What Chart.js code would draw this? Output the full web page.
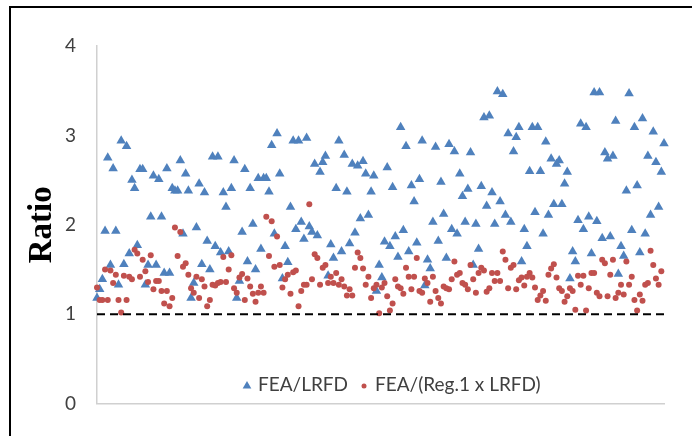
<!DOCTYPE html>
<html><head><meta charset="utf-8">
<script src="https://cdn.jsdelivr.net/npm/chart.js@4.4.1/dist/chart.umd.min.js"></script>
<style>html,body{margin:0;padding:0;background:#fff;}#wrap{width:692px;height:436px;position:relative;}</style>
</head><body><div id="wrap"><canvas id="c" width="692" height="436"></canvas></div>
<script>
const seriesNames = ['FEA/LRFD', 'FEA/(Reg.1 x LRFD)'];
const axisTitle = 'Ratio';
const yTicks = [0, 1, 2, 3, 4];
const limitRatio = 1;
const feaLrfd = [
1.18,1.28,1.39,1.93,2.75,1.55,2.63,1.93,1.33,2.94,
1.56,2.88,1.68,2.50,2.41,1.77,2.62,2.62,1.33,1.55,
2.09,2.55,1.55,2.51,2.09,1.46,2.63,1.46,2.41,2.38,
2.38,2.72,1.90,2.57,2.38,1.18,1.35,1.97,2.46,1.56,
2.36,1.82,1.50,2.76,1.76,2.76,1.69,2.36,2.20,1.70,
2.41,2.72,1.18,1.37,1.92,2.62,1.59,2.41,2.01,1.50,
2.52,1.73,2.52,2.52,2.37,2.89,1.90,3.02,2.57,1.40,
1.76,1.58,2.20,2.94,1.95,2.94,2.03,1.84,2.97,1.98,
1.92,2.68,1.88,2.59,2.70,2.77,1.43,1.78,1.63,2.41,
2.94,1.70,2.78,2.37,1.79,2.68,1.91,2.66,2.07,2.71,
2.57,2.11,2.37,2.55,1.26,1.55,1.41,1.81,2.64,1.76,
2.42,1.87,1.64,3.09,1.94,2.88,1.70,2.44,2.26,1.80,
2.51,2.94,1.32,1.61,1.51,2.03,2.87,1.82,2.48,2.12,
1.63,2.90,1.95,2.82,1.90,2.57,2.32,2.03,2.40,2.81,
1.55,2.01,1.73,2.43,3.20,2.21,3.22,2.36,2.01,3.49,
2.26,3.46,2.11,3.02,2.03,2.82,2.98,3.09,1.59,1.95,
1.76,2.60,3.09,2.14,3.09,2.60,1.90,2.93,2.11,2.74,
2.23,2.68,2.72,2.23,2.46,2.59,1.40,1.70,1.59,2.05,
3.13,1.95,3.09,2.09,1.68,3.48,2.04,3.48,1.85,2.81,
2.74,1.87,2.77,3.16,1.45,1.76,1.65,2.38,3.47,1.94,
3.09,2.44,1.69,3.19,1.90,2.77,2.11,3.04,2.70,2.20,
2.59,2.91];
const feaReg1Lrfd = [
1.30,1.16,1.16,1.50,1.16,1.49,1.35,1.44,1.16,1.02,
1.43,1.16,1.42,1.39,1.72,1.68,1.42,1.61,1.48,1.36,
1.66,1.28,1.37,1.37,1.26,1.12,1.26,1.09,1.18,1.97,
1.65,1.92,1.53,1.57,1.44,1.29,1.24,1.42,1.18,1.39,
1.31,1.09,1.16,1.33,1.32,1.35,1.36,1.64,1.36,1.50,
1.66,1.29,1.24,1.41,1.45,1.16,1.40,1.31,1.23,1.14,
1.24,1.31,1.24,2.09,1.65,2.04,1.53,1.87,1.55,1.30,
1.39,1.44,1.23,1.47,1.49,1.09,1.26,1.33,1.33,2.23,
1.39,1.67,1.63,1.33,1.52,1.55,1.35,1.42,1.35,1.46,
1.33,1.39,1.31,1.21,1.28,1.21,1.52,1.69,1.63,1.51,
1.33,1.42,1.18,1.29,1.33,1.01,1.30,1.35,1.20,1.04,
1.12,1.39,1.31,1.29,1.23,1.52,1.42,1.28,1.42,1.63,
1.26,1.24,1.40,1.35,1.14,1.42,1.26,1.18,1.12,1.31,
1.29,1.28,1.39,1.59,1.44,1.46,1.35,1.33,1.28,1.55,
1.39,1.24,1.46,1.52,1.49,1.25,1.29,1.46,1.37,1.46,
1.37,1.70,1.61,1.29,1.52,1.55,1.28,1.38,1.41,1.32,
1.42,1.46,1.41,1.30,1.16,1.21,1.26,1.15,1.44,1.51,
1.56,1.41,1.29,1.26,1.14,1.20,1.29,1.26,1.05,1.43,
1.33,1.43,1.04,1.29,1.46,1.46,1.24,1.20,1.61,1.57,
1.20,1.44,1.61,1.18,1.24,1.33,1.22,1.59,1.33,1.42,
1.16,1.04,1.22,1.15,1.33,1.35,1.71,1.55,1.40,1.33,
1.48];

const blue = '#4F81BD', red = '#C0504D';
const nMax = Math.max(feaLrfd.length, feaReg1Lrfd.length);
const toPts = arr => arr.map((v, i) => ({x: i + 1, y: v}));

const framePlugin = {
  id: 'frame',
  beforeDraw(chart) {
    const ctx = chart.ctx;
    ctx.save();
    ctx.fillStyle = '#fff';
    ctx.fillRect(0, 0, chart.width, chart.height);
    ctx.strokeStyle = '#000';
    ctx.lineWidth = 2;
    ctx.strokeRect(10, 7, 760, 500);
    ctx.restore();
  }
};

const legendPlugin = {
  id: 'inlineLegend',
  afterDraw(chart) {
    const ctx = chart.ctx;
    const y = 385;
    ctx.save();
    ctx.font = '19px Lato';
    ctx.textBaseline = 'middle';
    ctx.textAlign = 'left';
    ctx.fillStyle = blue;
    Chart.helpers.drawPoint(ctx, {pointStyle: 'triangle', radius: 5, rotation: 0, borderWidth: 0}, 247, y + 1);
    ctx.fillStyle = '#404040';
    ctx.fillText(seriesNames[0], 258, y);
    ctx.fillStyle = red;
    Chart.helpers.drawPoint(ctx, {pointStyle: 'circle', radius: 2.5, rotation: 0, borderWidth: 0}, 364, y + 1);
    ctx.fillStyle = '#404040';
    ctx.fillText(seriesNames[1], 375, y);
    ctx.restore();
  }
};

new Chart(document.getElementById('c'), {
  type: 'scatter',
  data: {
    datasets: [
      {label: 'limit', data: [{x: 1, y: limitRatio}, {x: nMax, y: limitRatio}], showLine: true,
       borderColor: '#000', borderWidth: 2, borderDash: [8, 5], pointRadius: 0, clip: false},
      {label: seriesNames[1], data: toPts(feaReg1Lrfd), pointStyle: 'circle', pointRadius: 3,
       backgroundColor: red, borderColor: red, borderWidth: 0, clip: false},
      {label: seriesNames[0], data: toPts(feaLrfd), pointStyle: 'triangle', pointRadius: 5.5,
       backgroundColor: blue, borderColor: blue, borderWidth: 0, clip: false}
    ]
  },
  options: {
    responsive: false, animation: false, devicePixelRatio: 1,
    layout: {padding: {left: 0, right: 28, top: 46, bottom: 29}},
    plugins: {legend: {display: false}, tooltip: {enabled: false}},
    scales: {
      x: {type: 'linear', min: 1, max: nMax,
          grid: {display: false, drawTicks: false},
          border: {display: true, color: '#D0D0D0', width: 1.5},
          ticks: {display: false},
          afterFit: s => { s.height = 0; }},
      y: {type: 'linear', min: yTicks[0], max: yTicks[yTicks.length - 1],
          afterBuildTicks: s => { s.ticks = yTicks.map(v => ({value: v})); },
          grid: {display: false, drawTicks: false},
          border: {display: true, color: '#D0D0D0', width: 1.5},
          ticks: {padding: 21, color: '#404040', font: {family: 'Lato', size: 19}},
          title: {display: true, text: axisTitle, color: '#000', padding: {top: 23, bottom: 0},
                  font: {family: 'Liberation Serif', size: 33, weight: 'bold'}},
          afterFit: s => { s.width = 97; }}
    }
  },
  plugins: [framePlugin, legendPlugin]
});
</script></body></html>
